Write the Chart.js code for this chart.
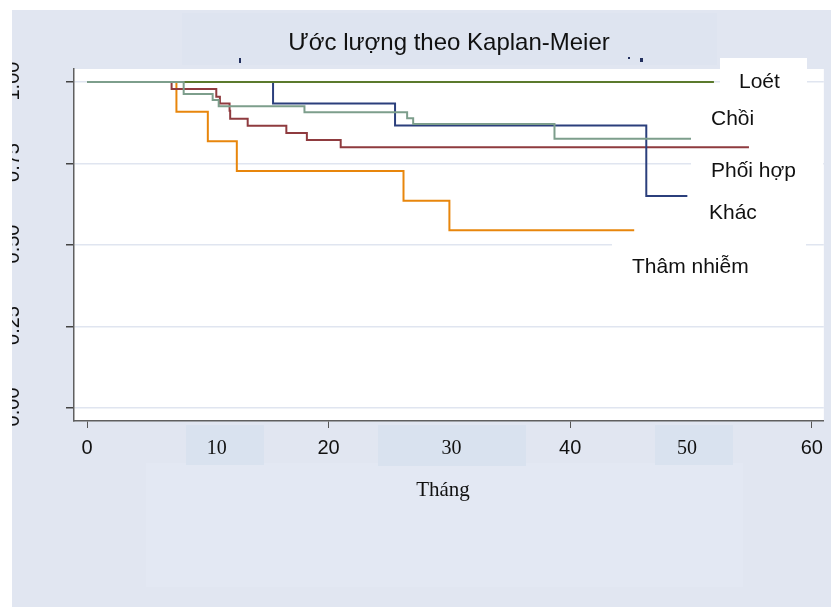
<!DOCTYPE html>
<html>
<head>
<meta charset="utf-8">
<script src="https://cdn.jsdelivr.net/npm/chart.js@4.4.1/dist/chart.umd.min.js"></script>
<style>
  html, body { margin: 0; padding: 0; background: #fff; }
  canvas { display: block; }
</style>
</head>
<body>
<canvas id="grafico" width="831" height="607"></canvas>
<script>
//* datos (tiempo en meses, supervivencia estimada)
const nhom = ["Chồi", "Loét", "Khác", "Phối hợp", "Thâm nhiễm"];
const mau = ["#7d9e8c", "#5b7a2d", "#2b3f7c", "#8f3b3f", "#e8860c"];

const thangChoi = [0, 8.0, 10.4, 10.9, 18.0, 26.5, 27.0, 38.7, 50.0];
const songChoi = [1, 0.963, 0.945, 0.926, 0.907, 0.889, 0.871, 0.826, 0.826];

const thangLoet = [0, 51.9];
const songLoet = [1, 1];

const thangKhac = [0, 15.4, 25.5, 46.3, 49.7];
const songKhac = [1, 0.934, 0.867, 0.650, 0.650];

const thangPhoiHop = [0, 7.0, 10.7, 11.0, 11.8, 11.85, 13.3, 16.5, 18.2, 21.0, 54.8];
const songPhoiHop = [1, 0.979, 0.955, 0.934, 0.912, 0.887, 0.866, 0.844, 0.822, 0.800, 0.800];

const thangThamNhiem = [0, 7.4, 10.0, 12.4, 26.2, 30.0, 45.3];
const songThamNhiem = [1, 0.909, 0.818, 0.727, 0.636, 0.545, 0.545];

const tiempos = [thangChoi, thangLoet, thangKhac, thangPhoiHop, thangThamNhiem];
const valores = [songChoi, songLoet, songKhac, songPhoiHop, songThamNhiem];

const xTicks = [0, 10, 20, 30, 40, 50, 60];
const xSerif = [10, 30, 50];
const yTicks = [0, 0.25, 0.5, 0.75, 1];
const yLabels = ["0.00", "0.25", "0.50", "0.75", "1.00"];

const tieuDe = "Ước lượng theo Kaplan-Meier";
const tieuDeTrucX = "Tháng";

const SANS = "'Liberation Sans', Arial, sans-serif";
const SERIF = "'Liberation Serif', 'Times New Roman', serif";

//* datasets
const datasets = nhom.map((nombre, i) => ({
  label: nombre,
  data: tiempos[i].map((t, j) => ({ x: t, y: valores[i][j] })),
  borderColor: mau[i],
  borderWidth: 2,
  stepped: true,
  fill: false,
  pointRadius: 0,
}));

//* plugin para fondos, cajas y textos
const decoracion = {
  id: "decoracion",
  beforeDraw(chart) {
    const c = chart.ctx;
    const a = chart.chartArea;
    c.save();
    c.fillStyle = "#ffffff";
    c.fillRect(0, 0, 831, 607);
    c.fillStyle = "#e1e6f1";
    c.fillRect(12, 10, 819, 597);
    c.fillStyle = "#dee4f0";
    c.fillRect(182, 13, 535, 52);
    // restos de un subtítulo tapado
    c.fillStyle = "#23305e";
    c.fillRect(239, 58, 2, 5);
    c.fillRect(628, 57, 2, 2);
    c.fillRect(640, 58, 3, 4);
    c.fillStyle = "#e3e8f3";
    c.fillRect(146, 463, 597, 124);
    c.fillStyle = "#d9e2ef";
    c.fillRect(186, 425, 78, 40);
    c.fillRect(378, 425, 148, 41);
    c.fillRect(655, 425, 78, 40);
    c.fillStyle = "#ffffff";
    c.fillRect(a.left, a.top, a.right - a.left, a.bottom - a.top);
    c.restore();
  },
  beforeDatasetsDraw(chart) {
    const c = chart.ctx;
    c.save();
    c.fillStyle = "#ffffff";
    c.fillRect(720, 58, 87, 42);
    c.fillRect(691, 152, 132, 40);
    c.fillRect(612, 236, 194, 62);
    c.restore();
  },
  afterDraw(chart) {
    const c = chart.ctx;
    const xs = chart.scales.x;
    const ys = chart.scales.y;
    c.save();
    c.fillStyle = "#111";
    c.textBaseline = "alphabetic";

    // título
    c.font = "24px " + SANS;
    c.textAlign = "center";
    c.fillText(tieuDe, 449, 50);

    // etiquetas de los grupos
    c.font = "21px " + SANS;
    c.textAlign = "left";
    c.fillText("Loét", 739, 88);
    c.fillText("Chồi", 711, 125);
    c.fillText("Phối hợp", 711, 177);
    c.fillText("Khác", 709, 219);
    c.fillText("Thâm nhiễm", 632, 273);

    // etiquetas serif del eje x
    c.font = "20px " + SERIF;
    c.textAlign = "center";
    const desplaz = { 10: 9, 30: 2, 50: -4 };
    xSerif.forEach((v) => {
      c.fillText(String(v), xs.getPixelForValue(v) + desplaz[v], 454);
    });

    // título del eje x
    c.font = "21px " + SERIF;
    c.fillText(tieuDeTrucX, 443, 496);

    // etiquetas rotadas del eje y
    c.font = "20px " + SANS;
    yTicks.forEach((v, i) => {
      c.save();
      c.translate(19, ys.getPixelForValue(v) - 1);
      c.rotate(-Math.PI / 2);
      c.textAlign = "center";
      c.fillText(yLabels[i], 0, 0);
      c.restore();
    });

    // bordes blancos
    c.fillStyle = "#ffffff";
    c.fillRect(0, 0, 12, 607);
    c.fillRect(0, 0, 831, 10);
    c.restore();
  },
};

new Chart(document.getElementById("grafico"), {
  type: "line",
  data: { datasets },
  options: {
    responsive: false,
    animation: false,
    devicePixelRatio: 1,
    layout: { padding: { left: 0, top: 69, right: 7, bottom: 0 } },
    plugins: {
      legend: { display: false },
      title: { display: false },
      tooltip: { enabled: false },
    },
    scales: {
      x: {
        type: "linear",
        min: -1.08,
        max: 61.0,
        afterBuildTicks: (s) => {
          s.ticks = xTicks.map((v) => ({ value: v }));
        },
        afterFit: (s) => {
          s.height = 186;
        },
        grid: {
          drawOnChartArea: false,
          drawTicks: true,
          tickLength: 7,
          tickWidth: 1,
          tickColor: (ctx) =>
            ctx.tick && xSerif.includes(ctx.tick.value) ? "rgba(0,0,0,0)" : "#555",
        },
        border: { color: "#5f5f5f", width: 1.5 },
        ticks: {
          autoSkip: false,
          maxRotation: 0,
          padding: 8,
          color: "#111",
          font: { family: SANS, size: 20 },
          callback: (v) => (xSerif.includes(v) ? "" : String(v)),
        },
      },
      y: {
        type: "linear",
        min: -0.04,
        max: 1.04,
        afterBuildTicks: (s) => {
          s.ticks = yTicks.map((v) => ({ value: v }));
        },
        afterFit: (s) => {
          s.width = 74;
        },
        grid: {
          color: "#e0e5f0",
          lineWidth: 1.5,
          drawTicks: true,
          tickLength: 8,
          tickWidth: 1.5,
          tickColor: "#444",
        },
        border: { color: "#5f5f5f", width: 1.5 },
        ticks: { display: false },
      },
    },
  },
  plugins: [decoracion],
});
</script>
</body>
</html>
